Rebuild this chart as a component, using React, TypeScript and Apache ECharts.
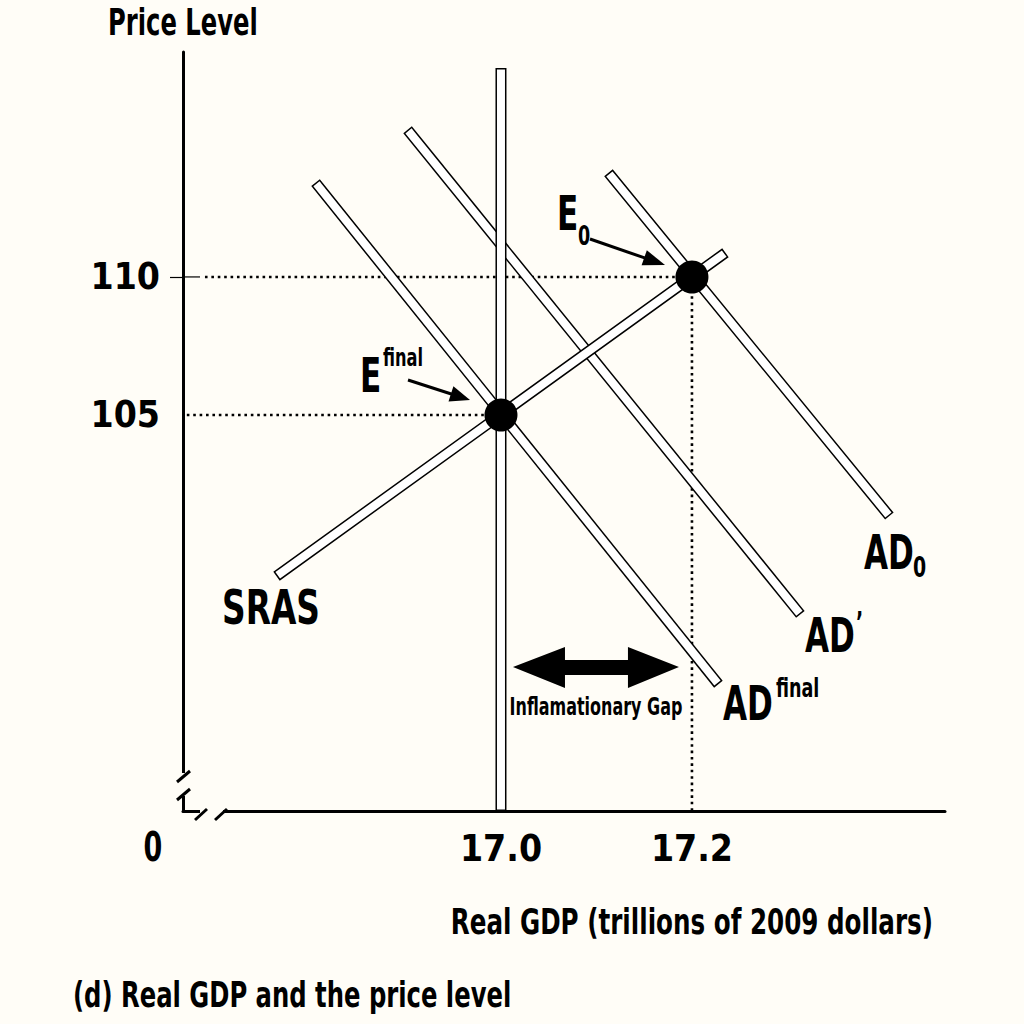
import React, { useEffect, useRef } from "react";
import * as echarts from "echarts";

const FONT = "'Liberation Sans Narrow', 'DejaVu Sans Condensed', 'Roboto Condensed', sans-serif";
const BG = "#fffdf7";

// axis ranges and ticks
const xRange = [16.667, 17.465];
const yRange = [90.65, 118.15];
const xTickValues = [17.0, 17.2];
const yTickValues = [105, 110];

// curves (endpoints in data units)
const lrasLine = [[17.0, 117.37], [17.0, 90.85]];
const srasLine = [[16.7696, 99.275], [17.2304, 110.76]];
const adFinalLine = [[16.8094, 113.26], [17.2241, 95.4]];
const adPrimeLine = [[16.9058, 115.18], [17.3099, 97.93]];
const ad0Line = [[17.1162, 113.62], [17.4031, 101.49]];
const equilibria = [[17.0, 105], [17.2, 110]];

// layout
const G = { left: 183, top: 52, width: 762, height: 759 };
const px = (x: number) => G.left + ((x - xRange[0]) / (xRange[1] - xRange[0])) * G.width;
const py = (y: number) => G.top + ((yRange[1] - y) / (yRange[1] - yRange[0])) * G.height;

function hollow(data: number[][]) {
  const base = {
    type: "line",
    data,
    symbol: "none",
    silent: true,
    z: 3,
    clip: true,
  };
  return [
    { ...base, lineStyle: { color: "#000", width: 11, cap: "square" } },
    { ...base, lineStyle: { color: "#fff", width: 8, cap: "square" } },
  ];
}

function dotted(data: number[][]) {
  return {
    type: "line",
    data,
    symbol: "none",
    silent: true,
    z: 2,
    lineStyle: { color: "#000", width: 2.6, type: [2.6, 3.8], cap: "butt" },
  };
}

function arrow(x1: number, y1: number, x2: number, y2: number, len: number, hw: number) {
  const dx = x2 - x1, dy = y2 - y1;
  const L = Math.sqrt(dx * dx + dy * dy);
  const ux = dx / L, uy = dy / L;
  const nx = -uy, ny = ux;
  const bx = x2 - ux * len, by = y2 - uy * len;
  return [
    { type: "line", z: 50, shape: { x1, y1, x2: bx + ux * 2, y2: by + uy * 2 }, style: { stroke: "#000", lineWidth: 3 } },
    {
      type: "polygon",
      z: 50,
      shape: { points: [[x2, y2], [bx + nx * hw, by + ny * hw], [bx - nx * hw, by - ny * hw]] },
      style: { fill: "#000" },
    },
  ];
}

function txt(text: string, x: number, y: number, size: number, align = "left", sx = 0.74) {
  return {
    type: "text",
    z: 60,
    x,
    y,
    scaleX: sx,
    style: {
      text,
      x: 0,
      y: 0,
      fill: "#000",
      fontSize: size,
      fontWeight: "bold",
      fontFamily: FONT,
      align,
      verticalAlign: "middle",
    },
  };
}

export default function App() {
  const ref = useRef<HTMLDivElement>(null);
  useEffect(() => {
    if (!ref.current) return;
    const chart = echarts.init(ref.current, null, { renderer: "svg" });

    const gl = px(xTickValues[0]) + 12;
    const gr = px(xTickValues[1]) - 13;
    const gy = 667;
    const doubleArrow = [
      [gl, gy], [gl + 52, gy - 20], [gl + 52, gy - 7], [gr - 51, gy - 7], [gr - 51, gy - 20],
      [gr, gy], [gr - 51, gy + 21], [gr - 51, gy + 8], [gl + 52, gy + 8], [gl + 52, gy + 21],
    ];

    const labelStyle = {
      color: "#000",
      fontSize: 37,
      fontWeight: "bold",
      fontFamily: FONT,
    };

    const option: any = {
      animation: false,
      backgroundColor: BG,
      grid: { left: G.left, top: G.top, width: G.width, height: G.height, containLabel: false },
      xAxis: {
        type: "value",
        min: xRange[0],
        max: xRange[1],
        splitLine: { show: false },
        axisLine: { show: true, onZero: false, lineStyle: { color: "#000", width: 3 } },
        axisTick: { show: false },
        axisLabel: {
          customValues: xTickValues,
          formatter: (v: number) => v.toFixed(1),
          ...labelStyle,
          margin: 19,
        },
      },
      yAxis: {
        type: "value",
        min: yRange[0],
        max: yRange[1],
        splitLine: { show: false },
        axisLine: { show: true, onZero: false, lineStyle: { color: "#000", width: 3 } },
        axisTick: { show: true, customValues: [110], length: 13, lineStyle: { color: "#000", width: 1.2 } },
        axisLabel: {
          customValues: yTickValues,
          formatter: (v: number) => String(Math.round(v)),
          ...labelStyle,
          margin: 23,
        },
      },
      series: [
        dotted([[xRange[0] + 0.023, 110], [17.2, 110]]),
        dotted([[xRange[0] + 0.004, 105], [17.0, 105]]),
        dotted([[17.2, 110], [17.2, yRange[0]]]),
        ...hollow(ad0Line),
        ...hollow(adPrimeLine),
        ...hollow(adFinalLine),
        ...hollow(srasLine),
        ...hollow(lrasLine),
        {
          type: "scatter",
          data: equilibria,
          symbolSize: 33,
          itemStyle: { color: "#000", opacity: 1 },
          silent: true,
          z: 10,
        },
      ],
      graphic: [
        // tick extension inside grid at 110
        { type: "line", z: 40, shape: { x1: G.left, y1: py(110), x2: G.left + 17, y2: py(110) }, style: { stroke: "#000", lineWidth: 1.2 } },
        // axis break masks
        { type: "rect", z: 40, shape: { x: G.left - 6, y: 773, width: 12, height: 23 }, style: { fill: BG } },
        { type: "rect", z: 40, shape: { x: 200, y: G.top + G.height - 6, width: 23, height: 12 }, style: { fill: BG } },
        // slashes
        { type: "line", z: 41, shape: { x1: 177, y1: 782, x2: 190, y2: 771 }, style: { stroke: "#000", lineWidth: 3 } },
        { type: "line", z: 41, shape: { x1: 177, y1: 800, x2: 190, y2: 789 }, style: { stroke: "#000", lineWidth: 3 } },
        { type: "line", z: 41, shape: { x1: 195, y1: 820, x2: 207, y2: 809 }, style: { stroke: "#000", lineWidth: 3 } },
        { type: "line", z: 41, shape: { x1: 215, y1: 820, x2: 227, y2: 809 }, style: { stroke: "#000", lineWidth: 3 } },
        // arrows
        ...arrow(590, 239, 665, 265, 22, 8),
        ...arrow(408, 380, 470, 400, 20, 8),
        { type: "polygon", z: 50, shape: { points: doubleArrow }, style: { fill: "#000" } },
        // texts
        txt("Price Level", 108, 22, 38, "left", 0.71),
        txt("0", 153, 847, 40, "center", 0.75),
        txt("Real GDP (trillions of 2009 dollars)", 933, 922, 36, "right", 0.76),
        txt("(d) Real GDP and the price level", 73, 995, 36, "left", 0.75),
        txt("SRAS", 222, 607, 48, "left", 0.76),
        txt("AD", 864, 552, 48, "left", 0.72),
        txt("0", 913, 567, 28, "left", 0.75),
        txt("AD", 805, 635, 48, "left", 0.72),
        txt("\u2019", 856, 622, 28, "left", 0.75),
        txt("AD", 723, 703, 48, "left", 0.72),
        txt("final", 776, 688, 26, "left", 0.75),
        txt("E", 557, 213, 48, "left", 0.72),
        txt("0", 578, 236, 26, "left", 0.75),
        txt("E", 360, 375, 48, "left", 0.72),
        txt("final", 383, 358, 24, "left", 0.75),
        txt("Inflamationary Gap", (gl + gr) / 2, 706, 24, "center", 0.74),
      ],
    };
    chart.setOption(option);
    return () => chart.dispose();
  }, []);
  return (
    <div
      ref={ref}
      style={{ position: "fixed", left: 0, top: 0, width: 1024, height: 1024, background: BG }}
    />
  );
}
